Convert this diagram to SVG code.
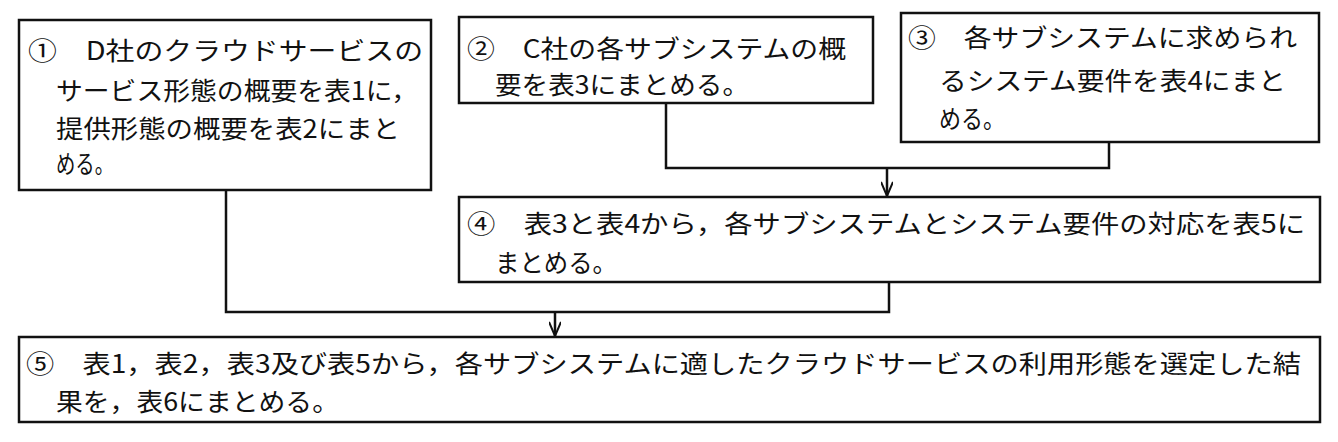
<svg xmlns="http://www.w3.org/2000/svg" width="1338" height="442" viewBox="0 0 1338 442">
<style>
rect{fill:#fff;stroke:#111;stroke-width:2.5}
text{font-family:"Noto Sans CJK JP","Noto Sans",sans-serif;font-size:25px;fill:#111}
.c{fill:none;stroke:#111;stroke-width:2.5}
</style>
<defs><marker id="a" viewBox="0 0 16 12" refX="15" refY="6" markerWidth="16" markerHeight="12" markerUnits="userSpaceOnUse" orient="auto"><path d="M1,0 L15,6 L1,12" fill="none" stroke="#111" stroke-width="2"/></marker></defs>
<rect width="1338" height="442" style="stroke:none"/>
<g id="connectors">
<path class="c" d="M666,103 V168 H1109 V142"/>
<path class="c" d="M887,168 V196" marker-end="url(#a)"/>
<path class="c" d="M226,190 V312 H889 V282"/>
<path class="c" d="M555,312 V336" marker-end="url(#a)"/>
</g>
<g id="n1"><rect x="19" y="20" width="412" height="170"/>
<text x="28" y="60" textLength="395" lengthAdjust="spacingAndGlyphs">①　D社のクラウドサービスの</text>
<text x="56" y="100" textLength="362" lengthAdjust="spacingAndGlyphs">サービス形態の概要を表1に，</text>
<text x="56" y="138" textLength="344" lengthAdjust="spacingAndGlyphs">提供形態の概要を表2にまと</text>
<text x="56" y="173" textLength="58" lengthAdjust="spacingAndGlyphs">める。</text></g>
<g id="n2"><rect x="459" y="17" width="414" height="86"/>
<text x="467" y="58" textLength="379" lengthAdjust="spacingAndGlyphs">②　C社の各サブシステムの概</text>
<text x="495" y="94" textLength="254" lengthAdjust="spacingAndGlyphs">要を表3にまとめる。</text></g>
<g id="n3"><rect x="901" y="13" width="418" height="129"/>
<text x="908" y="47" textLength="389" lengthAdjust="spacingAndGlyphs">③　各サブシステムに求められ</text>
<text x="939" y="90" textLength="347" lengthAdjust="spacingAndGlyphs">るシステム要件を表4にまと</text>
<text x="939" y="128" textLength="66" lengthAdjust="spacingAndGlyphs">める。</text></g>
<g id="n4"><rect x="459" y="197" width="861" height="85"/>
<text x="467" y="233" textLength="838" lengthAdjust="spacingAndGlyphs">④　表3と表4から，各サブシステムとシステム要件の対応を表5に</text>
<text x="495" y="272" textLength="122" lengthAdjust="spacingAndGlyphs">まとめる。</text></g>
<g id="n5"><rect x="19" y="337" width="1301" height="85"/>
<text x="26" y="373" textLength="1275" lengthAdjust="spacingAndGlyphs">⑤　表1，表2，表3及び表5から，各サブシステムに適したクラウドサービスの利用形態を選定した結</text>
<text x="56" y="411" textLength="283" lengthAdjust="spacingAndGlyphs">果を，表6にまとめる。</text></g>
</svg>
